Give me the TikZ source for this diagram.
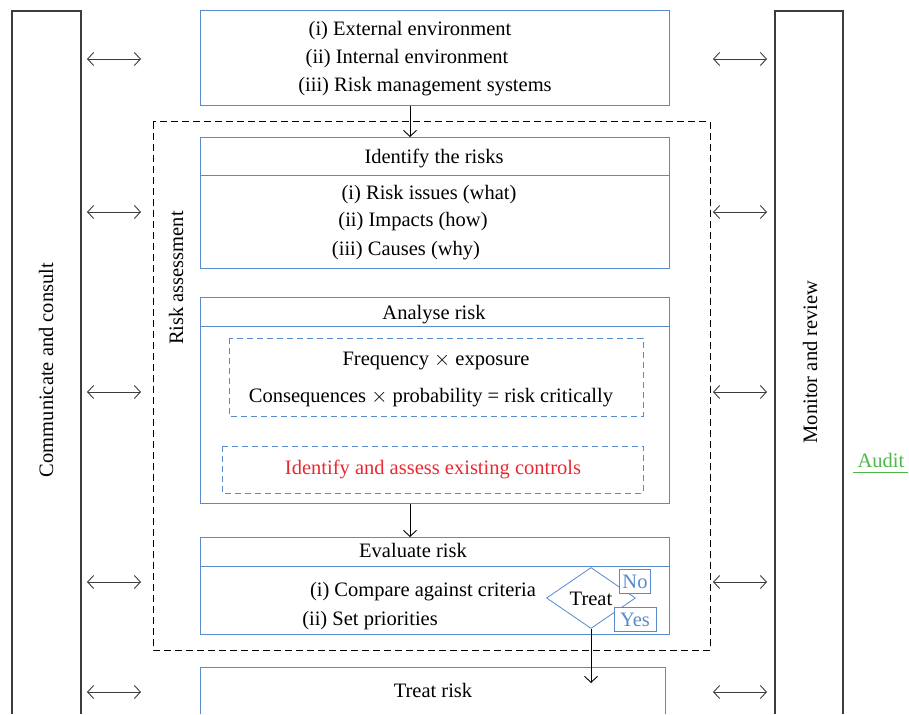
\documentclass[tikz,border=0pt]{standalone}
\usepackage{fontspec}
\setmainfont{Liberation Serif}
\usetikzlibrary{shapes.geometric,arrows.meta}
\definecolor{bblue}{RGB}{88,138,205}
\definecolor{rred}{RGB}{232,40,48}
\definecolor{ggreen}{RGB}{76,184,72}
\definecolor{dgray}{RGB}{60,60,60}
\begin{document}
\begin{tikzpicture}[x=1pt,y=-1pt,
  bbox/.style={draw=bblue,line width=1pt},
  side/.style={draw=dgray,line width=1.2pt},
  dbl/.style={{Straight Barb[length=6pt,width=13pt]}-{Straight Barb[length=6pt,width=13pt]},line width=0.9pt,draw=dgray},
  arr/.style={-{Straight Barb[length=6pt,width=13pt]},line width=0.9pt,draw=black},
  txt/.style={font=\fontsize{20.5}{24}\selectfont,inner sep=0pt},
  bt/.style={txt,anchor=base,yshift=-7pt},
  ibox/.style={draw=bblue,dash pattern=on 6pt off 4pt,line width=0.9pt}]
\useasboundingbox (0,0) rectangle (909,714);
% side boxes
\draw[side] (12,714) -- (12,11) -- (81,11) -- (81,714);
\draw[side] (775,714) -- (775,11) -- (843,11) -- (843,714);
\node[txt,rotate=90] (cc) at (46,370) {Communicate and consult};
\node[txt,rotate=90] (mr) at (810,362) {Monitor and review};
\node[bt,text=ggreen] (audit) at (881,460) {Audit};
\draw[ggreen,line width=0.8pt] (853,472) -- (908,472);
% dashed risk assessment
\draw[dash pattern=on 7pt off 4pt,line width=1pt,draw=black] (153,122) rectangle (710,650);
\node[txt,rotate=90] (ra) at (176,278) {Risk assessment};
% top box
\node[bbox,minimum width=469pt,minimum height=95pt,anchor=north west] (top) at (200,10) {};
\node[bt] at (410,29) {(i) External environment};
\node[bt] at (407,57) {(ii) Internal environment};
\node[bt] at (425,85) {(iii) Risk management systems};
% identify
\node[bbox,minimum width=469pt,minimum height=131pt,anchor=north west] (ident) at (200,137) {};
\draw[bblue,line width=1pt] (200,175) -- (669,175);
\node[bt] at (434,157) {Identify the risks};
\node[bt] at (429,192) {(i) Risk issues (what)};
\node[bt] at (413,219) {(ii) Impacts (how)};
\node[bt] at (406,248) {(iii) Causes (why)};
% analyse
\node[bbox,minimum width=469pt,minimum height=206pt,anchor=north west] (anal) at (200,297) {};
\draw[bblue,line width=1pt] (200,326) -- (669,326);
\node[bt] at (434,312) {Analyse risk};
\draw[ibox] (229,338) rectangle (643,416);
\node[bt] at (436,358) {Frequency $\times$ exposure};
\node[bt] at (431,395) {Consequences $\times$ probability = risk critically};
\draw[ibox] (222,446) rectangle (643,493);
\node[bt,text=rred] at (433,467) {Identify and assess existing controls};
% evaluate
\node[bbox,minimum width=469pt,minimum height=97pt,anchor=north west] (eval) at (200,537) {};
\draw[bblue,line width=1pt] (200,566) -- (669,566);
\node[bt] at (413,550) {Evaluate risk};
\node[bt] at (423,589) {(i) Compare against criteria};
\node[bt] at (370,618) {(ii) Set priorities};
\node[draw=bblue,line width=0.8pt,diamond,fill=white,minimum width=89pt,minimum height=61pt,inner sep=0pt] (treat) at (591,598) {};
\node[bt] at (591,598) {Treat};
\node[draw=bblue,fill=white,line width=0.8pt,minimum width=31pt,minimum height=24pt,inner sep=0pt] (no) at (635,581) {};
\node[bt,text=bblue] at (635,581) {No};
\node[draw=bblue,fill=white,line width=0.8pt,minimum width=42pt,minimum height=24pt,inner sep=0pt] (yes) at (635,619) {};
\node[bt,text=bblue] at (635,619) {Yes};
% treat risk
\draw[bblue,line width=1pt] (200,714) -- (200,667) -- (665,667) -- (665,714);
\coordinate (tr) at (591,683);
\node[bt] at (433,690) {Treat risk};
% arrows
\draw[arr] (top.south -| 410,0) -- (ident.north -| 410,0);
\draw[arr] (anal.south -| 410,0) -- (eval.north -| 410,0);
\draw[arr] (treat.south) -- (tr);
\foreach \y in {59,212,392,582,692}{
  \draw[dbl] (87,\y) -- (141,\y);
  \draw[dbl] (713,\y) -- (767,\y);
}
\end{tikzpicture}
\end{document}
